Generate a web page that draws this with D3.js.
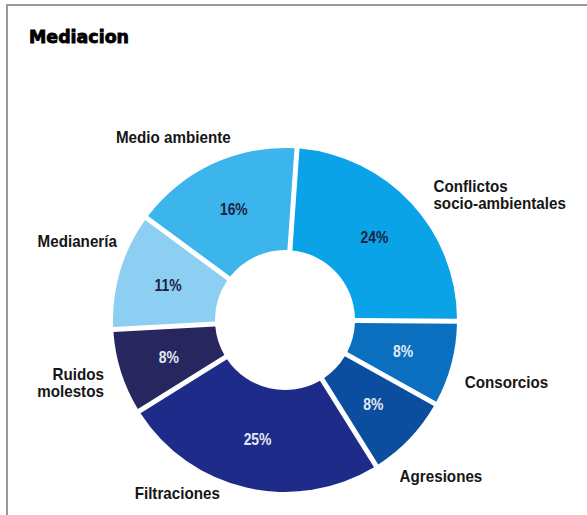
<!DOCTYPE html>
<html>
<head>
<meta charset="utf-8">
<script src="https://cdn.jsdelivr.net/npm/d3@7"></script>
<style>
  html, body { margin: 0; padding: 0; background: #fff; }
  svg { display: block; }
  .lbl { font-family: 'Liberation Sans', Arial, sans-serif; font-weight: bold; }
</style>
</head>
<body>
<script>
// Case categories handled by the mediation office, clockwise from the top
const categories = ["Conflictos|socio-ambientales", "Consorcios", "Agresiones", "Filtraciones", "Ruidos|molestos", "Medianería", "Medio ambiente"];
const shares = [24, 8, 8, 25, 8, 11, 16];
const sliceColors = ["#0aa3e7", "#0a6fbf", "#0b4d9f", "#1e2b89", "#27265e", "#8dcff3", "#3bb5ec"];
const valueTextColors = ["#1c2140", "#e4eaf5", "#e4eaf5", "#e4eaf5", "#e4eaf5", "#1c2140", "#1c2140"];

// Small nudges for the category names around the ring
const nameNudge = [[9, 1], [-4, 19], [-23, 31], [-65, -6], [0, 3], [14, -19], [-32, -5]];
const nameAnchor = ["start", "start", "start", "middle", "end", "end", "middle"];

const W = 587, H = 515;
const cx = 285, cy = 320, rOuter = 172, rInner = 70;

const svg = d3.select("body").append("svg").attr("width", W).attr("height", H);

// Frame lines (top and left)
svg.append("line").attr("x1", 6).attr("x2", W).attr("y1", 5).attr("y2", 5)
  .attr("stroke", "#9a9a9a").attr("stroke-width", 2);
svg.append("line").attr("x1", 7).attr("x2", 7).attr("y1", 4).attr("y2", H)
  .attr("stroke", "#9a9a9a").attr("stroke-width", 2);

// Title
svg.append("text").attr("x", 29).attr("y", 43)
  .attr("font-family", "'DejaVu Sans', sans-serif").attr("font-weight", "bold")
  .attr("font-size", 17).attr("fill", "#000").attr("stroke", "#000").attr("stroke-width", 0.8)
  .attr("textLength", 100).attr("lengthAdjust", "spacingAndGlyphs")
  .text("Mediacion");

const data = categories.map((c, i) => ({ name: c, value: shares[i], i }));

const startDeg = 4;
const pie = d3.pie().value(d => d.value).sort(null)
  .startAngle(startDeg * Math.PI / 180)
  .endAngle((startDeg + 360) * Math.PI / 180);

const arc = d3.arc().innerRadius(rInner).outerRadius(rOuter)
  .padAngle(0.05).padRadius(100);

const arcs = pie(data);
const g = svg.append("g").attr("transform", `translate(${cx},${cy})`);

g.selectAll("path.slice").data(arcs).join("path")
  .attr("class", "slice")
  .attr("d", arc)
  .attr("fill", d => sliceColors[d.data.i]);

// Percentage labels inside each slice (narrowed bold face)
const valueArc = d3.arc().innerRadius(122).outerRadius(122);
g.selectAll("text.val").data(arcs).join("text")
  .attr("class", "lbl val")
  .attr("transform", d => `translate(${valueArc.centroid(d)}) scale(0.87,1)`)
  .attr("text-anchor", "middle")
  .attr("dy", "0.36em")
  .attr("font-size", 16)
  .attr("fill", d => valueTextColors[d.data.i])
  .text(d => d.data.value + "%");

// Category names outside the ring
const nameArc = d3.arc().innerRadius(rOuter + 18).outerRadius(rOuter + 18);
const names = g.selectAll("text.name").data(arcs).join("text")
  .attr("class", "lbl name")
  .attr("font-size", 16)
  .attr("fill", "#161616")
  .attr("text-anchor", d => nameAnchor[d.data.i])
  .attr("transform", d => {
    const [x, y] = nameArc.centroid(d);
    const [nx, ny] = nameNudge[d.data.i];
    return `translate(${x + nx},${y + ny}) scale(0.95,1)`;
  });

names.selectAll("tspan").data(d => d.data.name.split("|")).join("tspan")
  .attr("x", 0)
  .attr("y", (t, j) => j * 17)
  .text(t => t);
</script>
</body>
</html>
